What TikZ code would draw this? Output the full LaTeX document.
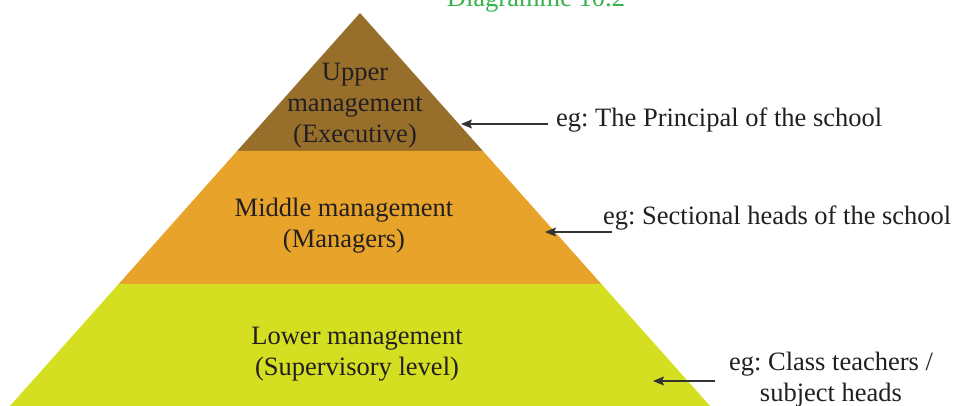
\documentclass[tikz,border=0pt]{standalone}
\usepackage{fontspec}
\setmainfont{Liberation Serif}
\usepackage{tikz}
\usetikzlibrary{arrows.meta}
\definecolor{upperLevel}{HTML}{976F2B}
\definecolor{middleLevel}{HTML}{E8A32A}
\definecolor{lowerLevel}{HTML}{D5DF22}
\definecolor{titleGreen}{HTML}{33B34A}
\definecolor{inkText}{HTML}{231F20}
\frenchspacing

\begin{document}
\begin{tikzpicture}[
  x=1pt,
  y=-1pt,
  every node/.style={
    inner sep=0pt,
    text=inkText,
    font=\fontsize{26.5}{31}\selectfont,
  },
  level text/.style={
    align=center,
  },
  example text/.style={
    anchor=base west,
  },
  pointer/.style={
    draw=black!80,
    line width=1.2pt,
    -{Stealth[length=11pt,width=9pt,inset=2pt]},
  }
]
\useasboundingbox (0,0) rectangle (956,406);
\foreach \ya/\yb/\col in {13/151/upperLevel,151/284/middleLevel,284/420/lowerLevel}
{
  \fill[\col] ({360-0.8906*(\ya-13)},\ya) -- ({360+0.8906*(\ya-13)},\ya)
    -- ({360+0.8906*(\yb-13)},\yb) -- ({360-0.8906*(\yb-13)},\yb) -- cycle;
}
\node[text=titleGreen,anchor=base] (title) at (536,7) {Diagramme 10.2};
\node[level text] (upper) at (355,106) {Upper\\management\\(Executive)};
\node[level text] (middle) at (344,226) {Middle management\\(Managers)};
\node[level text] (lower) at (357,354) {Lower management\\(Supervisory level)};
\node[example text] (egUpper) at (556,127) {eg: The Principal of the school};
\node[example text] (egMiddle) at (603,225) {eg: Sectional heads of the school};
\node[level text] (egLower) at (831,380) {eg: Class teachers /\\subject heads};
\coordinate (tailUpper) at (548,124);
\coordinate (tipUpper) at (461,124);
\coordinate (tailMiddle) at (612,232);
\coordinate (tipMiddle) at (545,232);
\coordinate (tailLower) at (715,381);
\coordinate (tipLower) at (653,381);
\foreach \k in {Upper,Middle,Lower}
  \draw[pointer] (tail\k) -- (tip\k);
\end{tikzpicture}
\end{document}
